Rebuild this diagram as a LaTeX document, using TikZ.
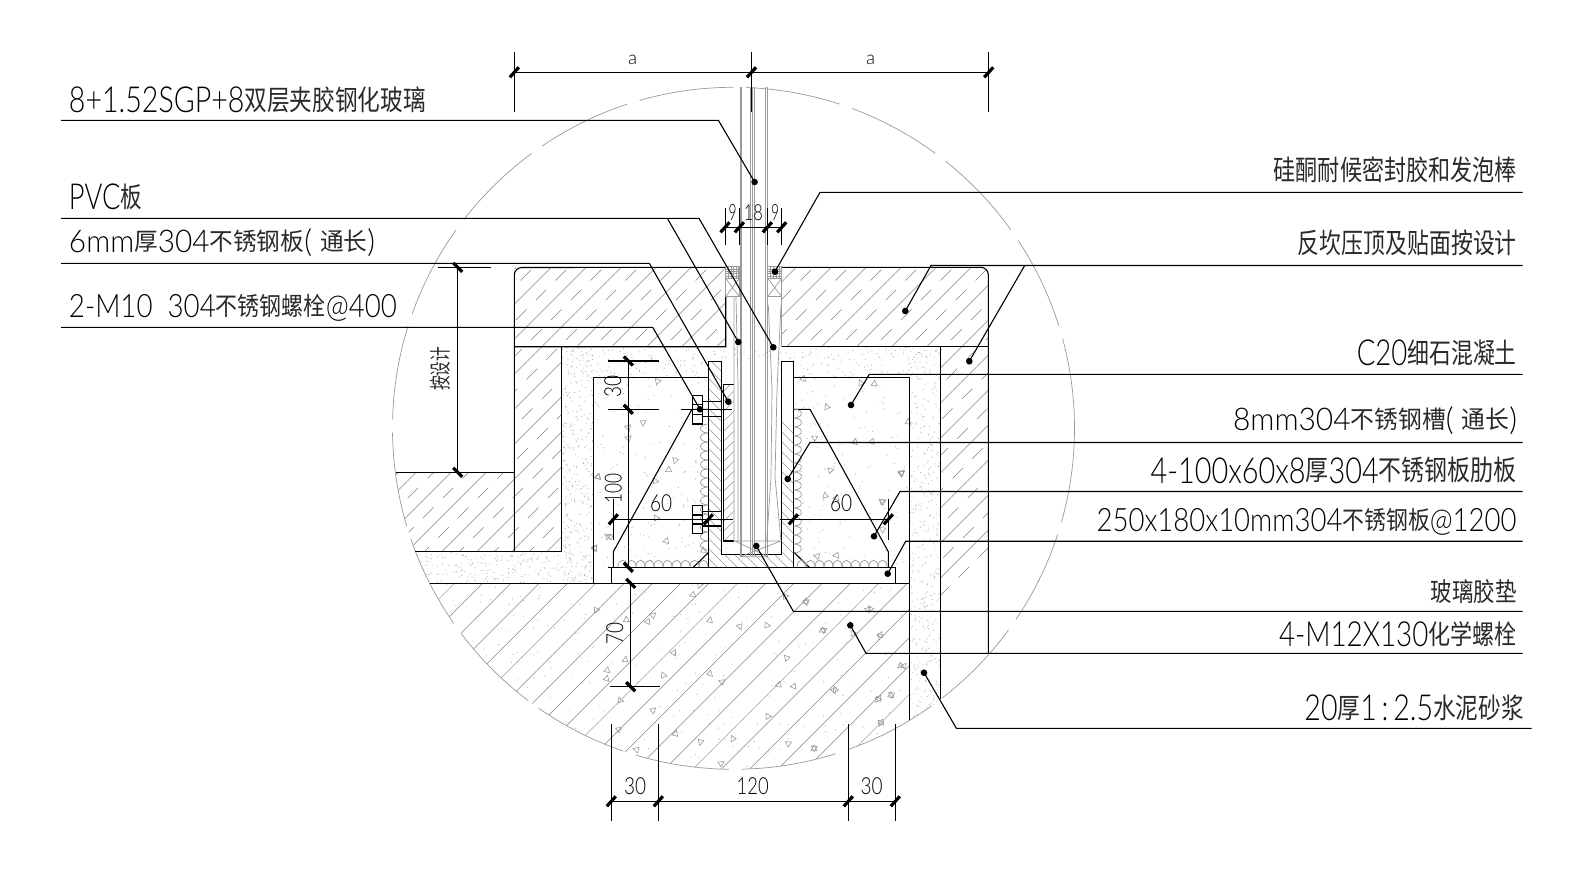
\documentclass[tikz,border=0pt]{standalone}
\usepackage{graphicx}
\usepackage{fontspec}
\setmainfont{Lato Light}
\newfontfamily\cjkfont{Noto Sans CJK SC}
\definecolor{cjc}{HTML}{2A2A2A}
\newcommand\cj[1]{{\cjkfont\color{cjc}#1}}
\newcommand\latn[1]{\raisebox{-0.08em}{\scalebox{1.26}[1.28]{#1}}}
\newcommand\fitbox[3]{\resizebox*{#1pt}{#2pt}{\rule[-0.12em]{0pt}{1em}#3}}
\newcommand\dimbox[3]{\resizebox*{#1pt}{#2pt}{#3}}
\definecolor{gl}{HTML}{9A9A9A}
\definecolor{hl}{HTML}{858585}
\tikzset{
 blk/.style={black,line width=1.1pt},
 grayl/.style={gl,line width=0.7pt},
 hatchs/.style={hl,line width=0.5pt},
 hatchd/.style={hl,line width=0.5pt,dash pattern=on 15pt off 13pt},
 chanh/.style={gl,line width=0.6pt},
 leader/.style={black,line width=1.1pt},
 dotn/.style={circle,fill=black,inner sep=0pt,minimum size=6.6pt},
 txt/.style={inner sep=0pt,outer sep=0pt,black},
 tickl/.style={black,line width=3.2pt},
 trig/.style={gl,line width=0.6pt},
 spk/.style={gl!70!white},
 circl/.style={gl,line width=0.7pt,dash pattern=on 95pt off 13pt},
}
\newcommand\tka[2]{\draw[tickl] ({#1-4.5},{#2+5})--({#1+4.5},{#2-5});}
\newcommand\tkb[2]{\draw[tickl] ({#1-4.5},{#2-4.5})--({#1+4.5},{#2+4.5});}
\newcommand\spkl[5]{\fill[spk] foreach \i in {1,...,#5}{ ({#1+(#3-#1)*rnd},{#2+(#4-#2)*rnd}) rectangle ++(0.9,0.9)};}
\newcommand\trg[2]{\draw[trig,shift={(#1,#2)},rotate=#1*7] (-3,2)--(3,2.4)--(0,-3.2)--cycle;}
\begin{document}
\begin{tikzpicture}[x=1pt,y=-1pt]
\useasboundingbox (0,0) rectangle (1591,875);
\fill[white] (0,0) rectangle (1591,875);
\pgfmathsetseed{4242}
% inside detail circle
\begin{scope}
\clip (733.5,428.3) circle (341);
% concrete speckle
\spkl{561.7}{346.7}{940.5}{377.3}{300}
\spkl{561.7}{346.7}{593.3}{583.3}{340}
\spkl{909.3}{346.7}{940.5}{760}{480}
\spkl{414}{551.3}{593.3}{583.3}{240}
\spkl{593.3}{377.3}{909.3}{567}{380}
\spkl{400}{583.3}{909.3}{770}{320}
% hatches with dashes
\begin{scope}
\clip (514.3,267.3) rectangle (725.7,346.7) (781.7,267.3) rectangle (988.3,346.7)
      (514.3,346.7) rectangle (561.7,551.3) (380,472.3) rectangle (514.3,551.3)
      (940.5,346.7) rectangle (988.3,800);
\foreach \c in {0,...,22}{
  \draw[hatchs] ({748.4+35*\c-250},250)--({748.4+35*\c-800},800);
  \draw[hatchd] ({765.9+35*\c-250},250)--({765.9+35*\c-800},800);
}
\end{scope}
% slab hatch
\begin{scope}
\clip (380,583.3) rectangle (909.3,800);
\foreach \c in {0,...,26}{
  \draw[hatchs] ({981.0+28.3*\c-250},250)--({981.0+28.3*\c-800},800);
}
\end{scope}
% triangles
\foreach \x/\y in {20/120,108/150,190/135,360/150,450/170,530/165,700/180,590/265,250/248,105/270,360/310,220/315,395/335,52/300,50/325,565/345,612/350,735/360,865/385,905/375,190/420,85/478,255/492,333/515,428/507,533/438,595/522,140/540,392/580,672/535,873/458,933/288,870/195,840/115,790/190,650/95,585/80,310/75,330/45,140/15}{
  \trg{590+\x/3}{570+\y/3}
}
\foreach \x/\y in {190/97,145/113,55/260,90/440,45/475,228/383,258/453,265/240,285/212,225/272,370/480,170/555,740/52,703/143,825/155,875/155,965/250,905/335,735/318,770/325,908/420,710/498,770/497,985/95}{
  \trg{580+\x/3}{390+\y/3}
}
\foreach \x/\y in {232/543,670/535,842/548,882/552}{\trg{580+\x/3}{200+\y/3}}
\foreach \x/\y in {598/477,608/536,595/548,628/438,901.7/473,648/622,620/700,830/470}{\trg{\x}{\y}}
\foreach \x/\y in {200/100,165/185,10/485,135/510,45/572,160/588,68/750,155/778,180/765,205/678,160/848,28/925}{
  \trg{800+\x/1.982}{440+\y/3}
}
\end{scope}
% detail circle
\draw[circl] (733.5,428.3) circle (341);
% white steel
\fill[white] (708.3,361.3) rectangle (793.3,567.3);
\fill[white] (611.7,567.3) rectangle (895.3,583.3);
% channel hatch
\begin{scope}
\clip (708.3,361.3) rectangle (721.7,567.3) (781.7,361.3) rectangle (793.3,567.3) (708.3,554.3) rectangle (793.3,567.3);
\foreach \c in {0,...,26}{\draw[chanh] (690,{\c*10+330})--(810,{\c*10+450});}
\end{scope}
% 6 mm plate
\begin{scope}
\clip (723.3,384.3) rectangle (733.7,541);
\foreach \c in {0,...,20}{\draw[chanh] (715,{\c*10+380})--(745,{\c*10+350});}
\end{scope}
% cap and walls
\draw[blk] (514.3,551.3)--(514.3,275) arc[start angle=180,end angle=270,radius=7.5]--(725.7,267.3) (725.7,296.7)--(725.7,346.7)--(514.3,346.7);
\draw[blk] (781.7,267.3)--(980.8,267.3) arc[start angle=270,end angle=360,radius=7.5]--(988.3,653.3);
\draw[blk] (781.7,346.7)--(988.3,346.7);
\draw[blk] (561.7,346.7)--(561.7,551.3)--(414.5,551.3);
\draw[blk] (395.5,472.3)--(514.3,472.3);
\draw[blk] (940.5,346.7)--(940.5,699);
\draw[blk] (909.3,377.3)--(909.3,720);
\draw[blk] (793.3,377.3)--(909.3,377.3);
\draw[blk] (708.3,377.3)--(593.3,377.3)--(593.3,583.3);
\draw[blk] (430,583.3)--(909.3,583.3);
\draw[blk] (611.7,567.3) rectangle (895.3,583.3);
% channel
\draw[blk] (708.3,567.3)--(708.3,361.3)--(721.7,361.3)--(721.7,554.3)--(781.7,554.3)--(781.7,361.3)--(793.3,361.3)--(793.3,567.3);
\draw[blk] (733.7,384.3)--(723.3,384.3)--(723.3,541)--(733.7,541);
% ribs
\draw[blk] (708.3,409.3)--(692,409.3)--(613.3,551.7)--(613.3,567.3);
\draw[blk] (793.3,409.3)--(810,409.3)--(888.3,551.7)--(888.3,567.3);
\draw[blk] (708.3,552.7)--(693.3,567.3) (793.3,551.7)--(809.3,567.3);
% welds
\foreach \c in {0,...,13}{
  \draw[grayl] (708,{424+\c*9}) .. controls (698,{424+\c*9}) and (698,{433+\c*9}) .. (708,{433+\c*9});
}
\foreach \c in {0,...,15}{
  \draw[grayl] (793.5,{409+\c*9}) .. controls (804,{409+\c*9}) and (804,{418+\c*9}) .. (793.5,{418+\c*9});
}
\foreach \c in {0,...,9}{
  \draw[grayl] ({618+\c*9},567) .. controls ({618+\c*9},558) and ({627+\c*9},558) .. ({627+\c*9},567);
  \draw[grayl] ({797+\c*9},567) .. controls ({797+\c*9},558) and ({806+\c*9},558) .. ({806+\c*9},567);
}
% bolts
\draw[blk] (702.7,395.3) rectangle (692.7,424);
\draw[blk] (692.7,404.8)--(702.7,404.8) (692.7,414.4)--(702.7,414.4);
\draw[blk] (702.7,401.7)--(722,401.7) (702.7,416.7)--(722,416.7);
\draw[blk] (702.7,505.7) rectangle (692.7,533.3);
\draw[blk] (692.7,515)--(702.7,515) (692.7,524)--(702.7,524);
\draw[blk] (702.7,511.7)--(722,511.7) (702.7,526)--(722,526);
% glass
\foreach \x in {740,741.7,750.7,752.3,754.7,765.7,767.3}{
  \draw[grayl] (\x,87)--(\x,556);
}
\draw[black,line width=0.9pt] (751.5,87)--(751.5,112);
\draw[grayl] (734,297)--(734,541) (736,297)--(738,384)--(738,541);
\draw[grayl] (725.7,266.7) rectangle (739.3,296.7) (767.7,266.7) rectangle (781.7,296.7);
\draw[grayl] (725.7,278.3)--(739.3,296.7) (739.3,278.3)--(725.7,296.7) (767.7,278.3)--(781.7,296.7) (781.7,278.3)--(767.7,296.7);
\draw[grayl] (725.7,278.3)--(739.3,278.3) (767.7,278.3)--(781.7,278.3);
\foreach \k in {0,...,5}{
  \draw[gl,line width=0.5pt] ({725.7+\k*2.6},266.7)--({725.7+\k*2.6},278.3) ({767.7+\k*2.8},266.7)--({767.7+\k*2.8},278.3);
  \draw[gl,line width=0.5pt] (725.7,{266.7+\k*2.3})--(739.3,{266.7+\k*2.3}) (767.7,{266.7+\k*2.3})--(781.7,{266.7+\k*2.3});
}
\draw[grayl] (768.3,305)--(772,390)--(771,477)--(766.7,541) (781,305)--(777,390)--(775,477)--(781,541);
\draw[grayl] (781.7,296.7)--(781.7,346.7);
\draw[grayl] (733.7,541)--(781.7,541) (735,541)--(768,556.7) (781,541)--(740,556.7) (740,556.7)--(767.3,556.7);
% dimension a
\coordinate (da1) at (514.3,72.3); \coordinate (da2) at (751.5,72.3); \coordinate (da3) at (988.7,72.3);
\draw[blk] (da1)--(da3);
\draw[blk] (514.3,52)--(514.3,112) (751.5,52)--(751.5,112) (988.7,52)--(988.7,112);
\tka{514.3}{72.3}\tka{751.5}{72.3}\tka{988.7}{72.3}
\node[txt,rotate=0] (ta1) at (632.7,59.5) {\dimbox{9}{9.5}{a}};
\node[txt] (ta2) at (870.5,59.5) {\dimbox{9}{9.5}{a}};
% dimension 9-18-9
\draw[blk] (725,227.3)--(781.7,227.3);
\foreach \x in {725,739.3,767.3,781.7}{\draw[black,line width=0.9pt] (\x,208.3)--(\x,245); \tka{\x}{227.3}}
\node[txt] (t9a) at (732.7,212.7) {\dimbox{8}{16}{9}};
\node[txt] (t18) at (753.3,212.7) {\dimbox{19}{16}{18}};
\node[txt] (t9b) at (775,212.7) {\dimbox{8}{16}{9}};
% dimension height
\draw[blk] (438,267.3)--(490.7,267.3) (457.7,267.3)--(457.7,472.3);
\tkb{457.7}{267.3}\tkb{457.7}{472.3}
\node[txt,rotate=90] (tds) at (440,368.7) {\resizebox*{44pt}{20pt}{\cj{按设计}}};
% vertical dims left
\draw[blk] (608.3,361)--(659,361) (608.3,409.3)--(659,409.3) (608.3,567.3)--(659,567.3) (628.3,361)--(628.3,567.3);
\draw[blk] (680.7,409.3)--(732,409.3);
\tkb{628.3}{361}\tkb{628.3}{409.3}\tkb{628.3}{567.3}
\node[txt,rotate=90] (t30v) at (612.7,386) {\dimbox{22}{17}{30}};
\node[txt,rotate=90] (t100v) at (613.3,488) {\dimbox{30}{17}{100}};
% 60 dims
\draw[blk] (613.3,519.3)--(733,519.3) (780,519.3)--(888.3,519.3);
\draw[blk] (613.3,499)--(613.3,540) (888.3,499)--(888.3,540);
\tka{613.3}{519.3}\tka{708.3}{519.3}\tka{793.3}{519.3}\tka{888.3}{519.3}
\node[txt] (t60a) at (661,503) {\dimbox{22}{17}{60}};
\node[txt] (t60b) at (841,503) {\dimbox{22}{17}{60}};
% 70
\draw[blk] (630.7,583.3)--(630.7,686.7) (610,686.7)--(660,686.7);
\tkb{630.7}{583.3}\tkb{630.7}{686.7}
\node[txt,rotate=90] (t70) at (614.7,633) {\dimbox{22}{17}{70}};
% bottom dims
\draw[blk] (611.3,801.3)--(895.3,801.3);
\foreach \x in {611.3,658.3,848.3,895.3}{\draw[black,line width=0.9pt] (\x,724)--(\x,820.7); \tka{\x}{801.3}}
\node[txt] (t30a) at (635,786) {\dimbox{22}{17}{30}};
\node[txt] (t120) at (752.7,786) {\dimbox{32}{17}{120}};
\node[txt] (t30b) at (871.7,786) {\dimbox{22}{17}{30}};
% labels
\node[txt] (l1) at (247.5,100) {\fitbox{357}{28}{\latn{8+1.52SGP+8}\cj{双层夹胶钢化玻璃}}};
\node[txt] (l2) at (105.5,197) {\fitbox{73}{28}{\latn{PVC}\cj{板}}};
\node[txt] (l3) at (222,242.5) {\fitbox{306}{28}{\latn{6mm}\cj{厚}\latn{304}\cj{不锈钢板}\latn{( }\cj{通长}\latn{)}}};
\node[txt] (l4) at (233,307) {\fitbox{328}{28}{\latn{2-M10\ \ 304}\cj{不锈钢螺栓}\latn{@400}}};
\node[txt] (r1) at (1395.3,170.3) {\fitbox{243}{28}{\cj{硅酮耐候密封胶和发泡棒}}};
\node[txt] (r2) at (1407.3,243.3) {\fitbox{219}{28}{\cj{反坎压顶及贴面按设计}}};
\node[txt] (r3) at (1436.8,353) {\fitbox{160}{28}{\latn{C20}\cj{细石混凝土}}};
\node[txt] (r4) at (1375,420.3) {\fitbox{284}{28}{\latn{8mm304}\cj{不锈钢槽}\latn{( }\cj{通长}\latn{)}}};
\node[txt] (r5) at (1333.6,470.3) {\fitbox{366}{28}{\latn{4-100x60x8}\cj{厚}\latn{304}\cj{不锈钢板肋板}}};
\node[txt] (r6) at (1306.6,521) {\fitbox{420}{28}{\latn{250x180x10mm304}\cj{不锈钢板}\latn{@1200}}};
\node[txt] (r7) at (1473.6,591.3) {\fitbox{86}{26}{\cj{玻璃胶垫}}};
\node[txt] (r8) at (1397.8,634.2) {\fitbox{237.5}{27}{\latn{4-M12X130}\cj{化学螺栓}}};
\node[txt] (r9) at (1414.2,707.5) {\fitbox{219.5}{28}{\latn{20}\cj{厚}\latn{1\,:\,2.5}\cj{水泥砂浆}}};
% leaders
\newcommand\lead[8]{%
 \coordinate (s#1) at (#2,#3); \coordinate (e#1) at (#4,#3); \node[dotn] (d#1) at (#5,#6) {};
 \draw[leader] (s#1)--(e#1)--(d#1.center);}
\lead{L1}{61}{120.3}{718.4}{754.6}{182}{}{}
\lead{L2}{61}{218.3}{699}{773.3}{347.3}{}{}
\coordinate (eL2b) at (667.3,218.3); \node[dotn] (dL2b) at (738.3,342) {};
\draw[leader] (eL2b)--(dL2b.center);
\lead{L3}{61}{263.3}{649.3}{728.3}{401.7}{}{}
\lead{L4}{61}{327.3}{652.7}{700}{409.3}{}{}
\lead{R1}{1522.7}{192.3}{820}{775}{271.7}{}{}
\lead{R2}{1522.7}{265.5}{931}{905.3}{311}{}{}
\coordinate (eR2b) at (1024.7,265.5); \node[dotn] (dR2b) at (969.3,361.3) {};
\draw[leader] (eR2b)--(dR2b.center);
\lead{R3}{1522.7}{374.3}{869.3}{851}{405}{}{}
\lead{R4}{1522.7}{442.5}{810}{787.7}{479}{}{}
\lead{R5}{1522.7}{491.5}{900}{874}{536.3}{}{}
\lead{R6}{1522.7}{541.2}{905.7}{887.7}{573.7}{}{}
\lead{R7}{1522.7}{611.3}{793.3}{756.3}{546}{}{}
\lead{R8}{1522.7}{653.3}{866}{850.3}{625.3}{}{}
\lead{R9}{1531.6}{728.3}{956.4}{924}{672.7}{}{}
\end{tikzpicture}
\end{document}
